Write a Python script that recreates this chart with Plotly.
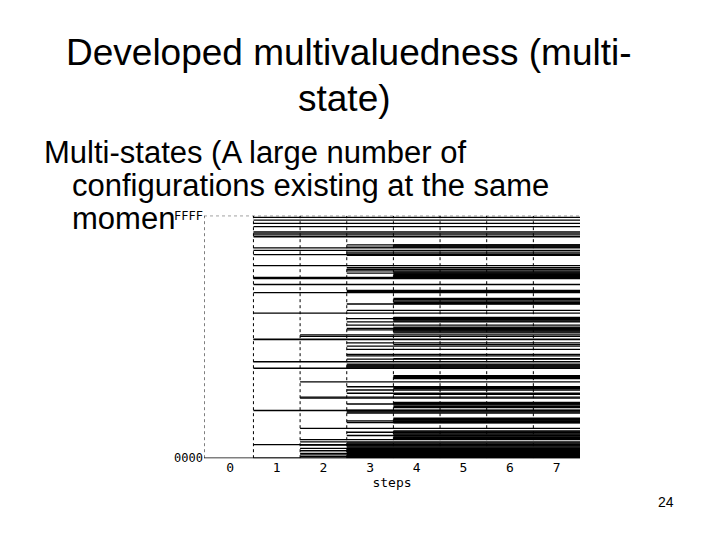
import plotly.graph_objects as go

steps = [0, 1, 2, 3, 4, 5, 6, 7]
y_tick_vals = [0, 65535]
y_tick_text = ["0000", "FFFF"]

# state values (0..0xFFFF) that appear first at a given step and persist
states_from_step1 = [65096, 64306, 63429, 62551, 61148, 60797, 60358, 59832, 56849, 56147, 55007,
                     52024, 48866, 48690, 48515, 46936, 44742, 39215, 32197, 32021, 26056, 24301,
                     12896, 3685, 0]
states_from_step2 = [33337, 32899, 20617, 16493, 16230, 8071, 5001, 4387, 3509, 2632, 2018, 1316, 877, 439]
states_from_step3 = [57639, 57025, 55709, 55182, 54831, 51498, 51059, 50620, 50006, 45356, 45005, 41672,
                     39917, 37724, 36847, 35969, 35092, 34653, 31144, 30267, 29390, 28074, 27635, 26758,
                     25442, 25179, 24915, 24652, 24389, 19301, 18423, 17546, 14651, 12984, 12721, 12458,
                     12194, 10089, 9650, 7018, 6141, 4123, 3860, 3597, 3334, 3071, 2808, 2545, 2281, 2018,
                     1755, 1492, 1229, 965, 702, 439, 176]
states_from_step4 = [57639, 57376, 57113, 50357, 50094, 49831, 49568, 49305, 49042, 43163, 42813, 42462,
                     42111, 41760, 38075, 37812, 37548, 37285, 37022, 35443, 35180, 34917, 34653, 34390,
                     34127, 33864, 30706, 26933, 22283, 22020, 21757, 21494, 19037, 18774, 17283, 15090,
                     14739, 14388, 14037, 13686, 10791, 10528, 10265, 9914, 9563, 7369, 7106, 6843, 6580,
                     6317, 6054, 5790, 5527, 5264]

groups = [(1, states_from_step1), (2, states_from_step2), (3, states_from_step3), (4, states_from_step4)]
X_END = 7.5
xs, ys = [], []
for s, vals in groups:
    for v in vals:
        xs += [s - 0.5, X_END, None]
        ys += [v, v, None]

XMIN = -0.56
fig = go.Figure()
fig.add_trace(go.Scatter(x=xs, y=ys, mode="lines", line=dict(color="black", width=1.3),
                         hoverinfo="skip", showlegend=False))

shapes = []
for b in [XMIN, 0.5, 1.5, 2.5, 3.5, 4.5, 5.5, 6.5]:
    shapes.append(dict(type="line", xref="x", yref="y", x0=b, x1=b, y0=0, y1=65535,
                       line=dict(color="black", width=1, dash="dot"), layer="below"))
shapes.append(dict(type="line", xref="x", yref="y", x0=XMIN, x1=X_END, y0=65535, y1=65535,
                   line=dict(color="black", width=1, dash="dot")))
shapes.append(dict(type="line", xref="x", yref="y", x0=XMIN, x1=X_END, y0=0, y1=0,
                   line=dict(color="black", width=1.5)))

mono = "DejaVu Sans Mono"
OX, OY = 8, 8  # page offset correction
fig.update_layout(
    width=720, height=540, margin=dict(l=0, r=0, t=0, b=0),
    paper_bgcolor="white", plot_bgcolor="white",
    shapes=shapes,
    xaxis=dict(domain=[(204-OX)/720, (580-OX)/720], range=[XMIN, X_END], tickvals=steps,
               ticktext=[str(s) for s in steps], showgrid=False, zeroline=False,
               ticks="", tickfont=dict(family=mono, size=13, color="black"),
               title=dict(text="steps", font=dict(family=mono, size=13, color="black"), standoff=0)),
    yaxis=dict(domain=[(77+OY)/540, (326+OY)/540], range=[0, 65535], tickvals=y_tick_vals,
               ticktext=y_tick_text, showgrid=False, zeroline=False, ticks="",
               tickfont=dict(family=mono, size=12, color="black")),
    font=dict(family="Liberation Sans", color="black"),
)

ann = [
    dict(text="Developed multivaluedness (multi-", x=349, y=46, size=37),
    dict(text="state)", x=344, y=94, size=37),
]
for a in ann:
    fig.add_annotation(text=a["text"], x=(a["x"]-OX)/720, y=1-(a["y"]-OY)/540, xref="paper", yref="paper",
                       showarrow=False, font=dict(size=a["size"]), xanchor="center", yanchor="middle")
body = [("Multi-states (A large number of", 42, 149), ("configurations existing at the same", 70, 183),
        ("momen", 70, 217)]
for t, x, y in body:
    fig.add_annotation(text=t, x=(x-OX)/720, y=1-(y-OY)/540, xref="paper", yref="paper", showarrow=False,
                       font=dict(size=31), xanchor="left", yanchor="middle")
fig.add_annotation(text="24", x=(676-OX)/720, y=1-(508-OY)/540, xref="paper", yref="paper", showarrow=False,
                   font=dict(size=14), xanchor="right", yanchor="middle")

fig.write_html("out.html")
